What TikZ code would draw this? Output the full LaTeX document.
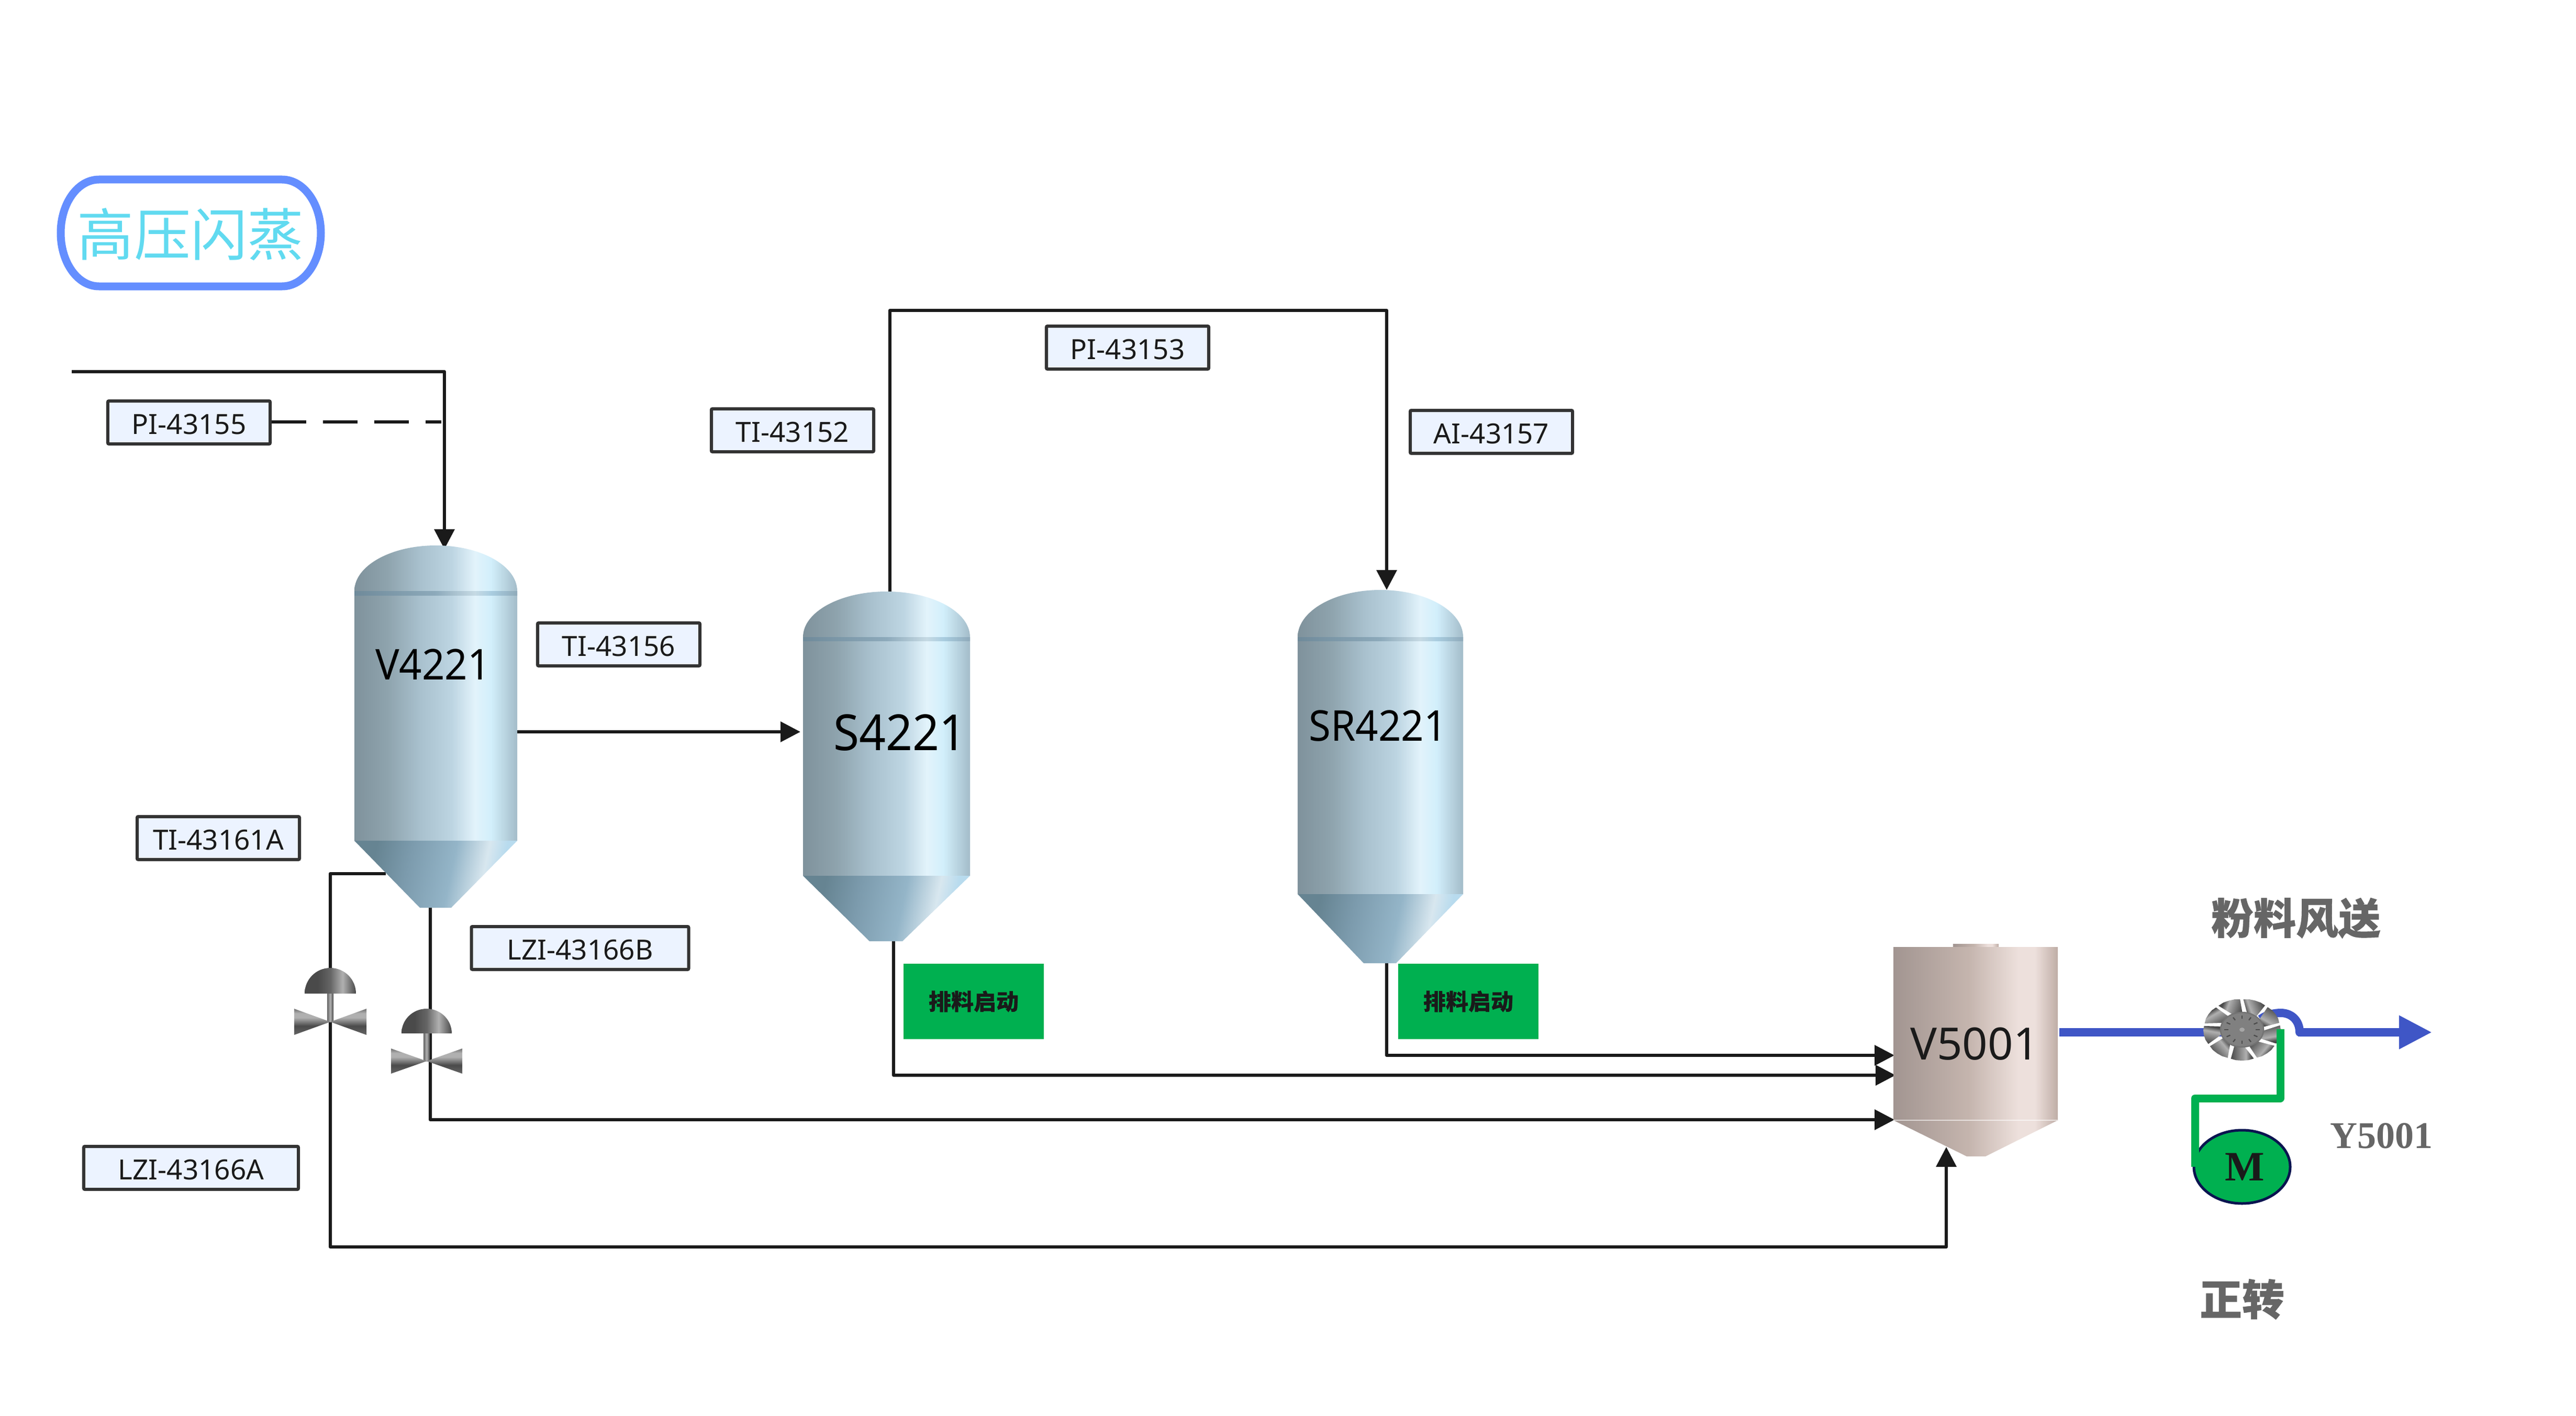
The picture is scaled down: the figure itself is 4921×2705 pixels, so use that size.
\documentclass[tikz,border=0pt]{standalone}
\usepackage{fontspec}
\usetikzlibrary{arrows.meta,shapes.geometric}
\setmainfont{Noto Sans}
\newfontfamily\tanklab[FakeStretch=0.94]{Noto Sans}
\newfontfamily\taglab{Noto Sans}
\newfontfamily\tankplain{Noto Sans}
\newfontfamily\cjkf[BoldFeatures={FakeBold=0.5}]{Noto Sans CJK SC}
\newfontfamily\serifb{Liberation Serif}

\definecolor{ln}{HTML}{1A1A1A}
\definecolor{tagfill}{HTML}{ECF3FF}
\definecolor{tagedge}{HTML}{333333}
\definecolor{pump}{HTML}{00B050}
\definecolor{flow}{HTML}{3F56C6}
\definecolor{pillc}{HTML}{648EFF}
\definecolor{titlec}{HTML}{61DAF0}
\definecolor{grayt}{HTML}{666666}
\definecolor{tA}{HTML}{7F929C}\definecolor{tB}{HTML}{8EA3AD}\definecolor{tC}{HTML}{A8C0CD}
\definecolor{tD}{HTML}{BDD5E2}\definecolor{tE}{HTML}{E2F3FB}\definecolor{tF}{HTML}{D2EFFB}\definecolor{tG}{HTML}{A3BCC9}
\definecolor{cA}{HTML}{668492}\definecolor{cB}{HTML}{7C9BAD}\definecolor{cC}{HTML}{94B5C8}
\definecolor{cD}{HTML}{D8E7EF}\definecolor{cE}{HTML}{B8DBEE}
\definecolor{bA}{HTML}{6F8A9A}\definecolor{bB}{HTML}{8DAABB}\definecolor{bC}{HTML}{C6DAE4}\definecolor{bD}{HTML}{A9CDE0}\definecolor{bE}{HTML}{8FAABA}
\definecolor{vA}{HTML}{A29591}\definecolor{vB}{HTML}{C5B5AE}\definecolor{vC}{HTML}{EDE0DC}\definecolor{vD}{HTML}{BFADA6}
\definecolor{gA}{HTML}{4A4A4A}\definecolor{gB}{HTML}{656565}\definecolor{gC}{HTML}{B0B0B0}\definecolor{gD}{HTML}{707070}
\pgfdeclarehorizontalshading{tankgrad}{100bp}{color(0bp)=(tA);color(25bp)=(tA);color(35bp)=(tB);color(45bp)=(tC);color(55bp)=(tD);color(62bp)=(tE);color(67bp)=(tF);color(75bp)=(tG);color(100bp)=(tG)}
\pgfdeclarehorizontalshading{conegrad}{100bp}{color(0bp)=(cA);color(28bp)=(cA);color(40bp)=(cB);color(55bp)=(cC);color(66bp)=(cD);color(72bp)=(cE);color(100bp)=(cE)}
\pgfdeclarehorizontalshading{bandgrad}{100bp}{color(0bp)=(bA);color(25bp)=(bA);color(50bp)=(bB);color(62bp)=(bC);color(67bp)=(bD);color(75bp)=(bE);color(100bp)=(bE)}
\pgfdeclarehorizontalshading{vgrad}{100bp}{color(0bp)=(vA);color(25bp)=(vA);color(48bp)=(vB);color(63bp)=(vC);color(68bp)=(vC);color(75bp)=(vD);color(100bp)=(vD)}
\pgfdeclarehorizontalshading{domegrad}{100bp}{color(0bp)=(gA);color(38bp)=(gA);color(50bp)=(gB);color(62bp)=(gC);color(75bp)=(gA);color(100bp)=(gA)}
\pgfdeclareverticalshading{bowgrad}{100bp}{color(0bp)=(gB);color(25bp)=(gB);color(42bp)=(gA);color(58bp)=(gC);color(66bp)=(gC);color(75bp)=(gD);color(100bp)=(gD)}
\pgfdeclarehorizontalshading{stemgrad}{100bp}{color(0bp)=(gB);color(25bp)=(gB);color(50bp)=(gC);color(75bp)=(gA);color(100bp)=(gA)}
\pgfdeclarehorizontalshading{bladegrad}{100bp}{color(0bp)=(gA);color(30bp)=(gA);color(42bp)=(gC);color(75bp)=(gA);color(100bp)=(gA)}

% x0 x1 top band-top band-bottom cyl-bottom cone-bottom
\newcommand{\tankbody}[9]{%
  \pgfmathsetmacro{\xm}{(#1+#2)/2}\pgfmathsetmacro{\rx}{(#2-#1)/2}
  \pgfmathsetmacro{\dh}{(#4-#3)*0.5523}\pgfmathsetmacro{\dx}{\rx*0.5523}
  \shade[shading=tankgrad] (#1,#4) .. controls (#1,#4-\dh) and (\xm-\dx,#3) .. (\xm,#3)
     .. controls (\xm+\dx,#3) and (#2,#4-\dh) .. (#2,#4) -- (#2,#6) -- (#1,#6) -- cycle;
  \shade[shading=bandgrad] (#1,#4) rectangle (#2,#5);
  \shade[shading=conegrad,shading angle=-12] (#1,#6) -- (#2,#6) -- (#9,#7) -- (#8,#7) -- cycle;
}
\newcommand{\valvebody}[8]{% cx top base rx bowcy bowhw bowhh stem-x
  \pgfmathsetmacro{\dx}{#4*0.5523}\pgfmathsetmacro{\dh}{(#3-#2)*0.5523}
  \shade[shading=stemgrad] (#8-6,#3) rectangle (#8+6,#5);
  \shade[shading=domegrad] (#1-#4,#3) .. controls (#1-#4,#3-\dh) and (#1-\dx,#2) .. (#1,#2)
     .. controls (#1+\dx,#2) and (#1+#4,#3-\dh) .. (#1+#4,#3) -- cycle;
  \shade[shading=bowgrad] (#1,#5) -- (#1-#6,#5-#7) -- (#1-#6,#5+#7) -- cycle;
  \shade[shading=bowgrad] (#1,#5) -- (#1+#6,#5-#7) -- (#1+#6,#5+#7) -- cycle;
}
\tikzset{
  tag/.style={draw=tagedge,line width=1.2pt,fill=tagfill,rounded corners=0.4pt,inner sep=0pt,
     minimum width=62pt,minimum height=16.4pt,text height=9pt,text depth=0pt,
     font=\taglab\fontsize{10.6pt}{12pt}\selectfont,text=ln},
  pipe/.style={draw=ln,line width=1.3pt,line join=round},
  arrowpipe/.style={pipe,-{Triangle[length=7.6pt,width=7.6pt]}},
  tanklabel/.style={inner sep=0pt,text=black,font=\tanklab\fontsize{16.2pt}{18pt}\selectfont},
  startbtn/.style={fill=pump,draw=none,inner sep=0pt,minimum width=53.6pt,minimum height=28.8pt,
     text=ln,font=\cjkf\bfseries\fontsize{8.6pt}{10pt}\selectfont},
  graylabel/.style={inner sep=0pt,text=grayt,font=\cjkf\bfseries\fontsize{16.2pt}{18pt}\selectfont},
}
\begin{document}
\begin{tikzpicture}[x=0.2pt,y=-0.2pt]
\useasboundingbox (0,0) rectangle (4921,2705);
\fill[white] (0,0) rectangle (4921,2705);

% named connection points
\coordinate (feedL) at (137,710);
\coordinate (vTop) at (849,1049);
\coordinate (vRight) at (988,1398);
\coordinate (sLeft) at (1529,1398);
\coordinate (sTop) at (1700,1130);
\coordinate (srTop) at (2649,1127);
\coordinate (vCone) at (822,1734);
\coordinate (vConeL) at (737,1669);
\coordinate (sCone) at (1707,1798);
\coordinate (srCone) at (2649,1840);
\coordinate (vfA) at (3619,2016);
\coordinate (vfB) at (3621,2054);
\coordinate (vfC) at (3619,2139);
\coordinate (vfD) at (3718,2191);
\coordinate (vfOut) at (3934,1972);
\coordinate (fanIn) at (4283,1972);
\coordinate (fanTop) at (4318,1947);
\coordinate (flowEnd) at (4646,1972);
\coordinate (greenTop) at (4356,1966);
\coordinate (motorIn) at (4193,2229);

% title
\draw[pillc,line width=3pt] (189,343) -- (539,343) .. controls (580,343) and (613,389) .. (613,445)
   .. controls (613,501) and (580,547) .. (539,547) -- (189,547)
   .. controls (148,547) and (116,501) .. (116,445) .. controls (116,389) and (148,343) .. (189,343) -- cycle;
\node[inner sep=0pt,text=titlec,font=\cjkf\fontsize{21.6pt}{24pt}\selectfont] (title) at (364,448) {高压闪蒸};

% black process lines (under the equipment)
\draw[arrowpipe] (feedL) -| (vTop);
\draw[arrowpipe] (vRight) -- (sLeft);
\draw[arrowpipe] (sTop) |- (2649,593) -- (srTop);
\draw[arrowpipe] (vCone) |- (vfC);
\draw[arrowpipe] (vConeL) -| (631,2382) -| (vfD);
\draw[arrowpipe] (sCone) |- (vfB);
\draw[arrowpipe] (srCone) |- (vfA);

% vessels
\tankbody{677}{988}{1042}{1129}{1137}{1606}{1734}{802}{862}
\tankbody{1534}{1853}{1130}{1217}{1224}{1673}{1798}{1661}{1724}
\tankbody{2479}{2795}{1127}{1217}{1224}{1708}{1840}{2605}{2667}
\shade[shading=vgrad] (3731,1803) rectangle (3818,1809);
\shade[shading=vgrad] (3617,1809) rectangle (3931,2140);
\shade[shading=vgrad] (3617,2140) -- (3931,2140) -- (3793,2209) -- (3757,2209) -- cycle;
\draw[white,opacity=.6,line width=0.3pt] (3617,2140) -- (3931,2140);

\node[tanklabel] (V4221) at (827,1269) {V4221};
\node[tanklabel,font=\tanklab\fontsize{19pt}{21pt}\selectfont] (S4221) at (1719,1400) {S4221};
\node[tanklabel] (SR4221) at (2632,1387) {SR4221};
\node[tanklabel,text=ln,font=\tankplain\fontsize{17pt}{18pt}\selectfont] (V5001) at (3772,1994) {V5001};

% valves
\valvebody{631}{1849}{1898}{49}{1952}{69}{25}{631}
\valvebody{815}{1927}{1974}{48}{2027}{68}{24}{815}

% tags
\node[tag] (pi55) at (361,807) {PI-43155};
\node[tag] (ti52) at (1514,822) {TI-43152};
\node[tag] (pi53) at (2154,664) {PI-43153};
\node[tag] (ai57) at (2849,825) {AI-43157};
\node[tag] (ti56) at (1182,1231) {TI-43156};
\node[tag] (ti61) at (417,1601) {TI-43161A};
\node[tag,minimum width=83pt] (lz6b) at (1108,1811) {LZI-43166B};
\node[tag,minimum width=82pt] (lz6a) at (365,2231) {LZI-43166A};
\coordinate (dashEnd) at (843,806);
\draw[pipe,dash pattern=on 13.2pt off 6.4pt] (pi55.east |- dashEnd) -- (dashEnd);

% start buttons
\node[startbtn] (btnS) at (1860,1913) {排料启动};
\node[startbtn] (btnSR) at (2805,1913) {排料启动};

% conveying line, fan, motor
\draw[flow,line width=3.2pt] (vfOut) -- (fanIn);
\draw[flow,line width=3.2pt,line join=round] (fanTop) .. controls (4330,1938) and (4345,1935) .. (4357,1935)
   .. controls (4378,1935) and (4393,1950) .. (4393,1972) -- (4583,1972);
\draw[flow,line width=3.2pt,-{Triangle[length=12.6pt,width=12pt]}] (4390,1972) -- (flowEnd);
\begin{scope}[shift={(4283,1967)}]
  \foreach \a in {10,50,...,370}{
    \shade[shading=bladegrad,shading angle=\a+90]
      ({\a+4}:30 and 24) -- ({\a-18}:73 and 58) -- ({\a-9}:74 and 59) -- ({\a}:74 and 59) -- ({\a+9}:74 and 59) -- ({\a+17}:73 and 58) -- ({\a+24}:30 and 24) -- cycle;
  }
  \draw[black!55,line width=0.5pt,fill=black!50!white] (0,0) ellipse [x radius=41,y radius=33];
  \foreach \t in {0,30,...,330}{
    \draw[black!70,line width=0.45pt] (\t:34 and 27) -- (\t:26 and 21);
  }
  \fill[black!35] (0,0) ellipse [x radius=5,y radius=4];
\end{scope}
\node[ellipse,draw={rgb,255:red,10;green,20;blue,80},line width=1pt,fill=pump,inner sep=0pt,minimum width=36.8pt,minimum height=28pt,
   text=ln,font=\serifb\bfseries\fontsize{16pt}{18pt}\selectfont] (motor) at (4283,2229) {};
\node[inner sep=0pt,text=ln,font=\serifb\bfseries\fontsize{16pt}{18pt}\selectfont] (motorM) at (4288,2229) {M};
\draw[pump,line width=3pt,line join=round] (greenTop) |- (4193,2098) -- (motorIn);

\node[graylabel] (fs) at (4386,1754) {粉料风送};
\node[graylabel] (zz) at (4283,2482) {正转};
\node[inner sep=0pt,text=grayt,font=\serifb\bfseries\fontsize{14.4pt}{16pt}\selectfont] (y5) at (4549,2170) {Y5001};
\end{tikzpicture}
\end{document}
